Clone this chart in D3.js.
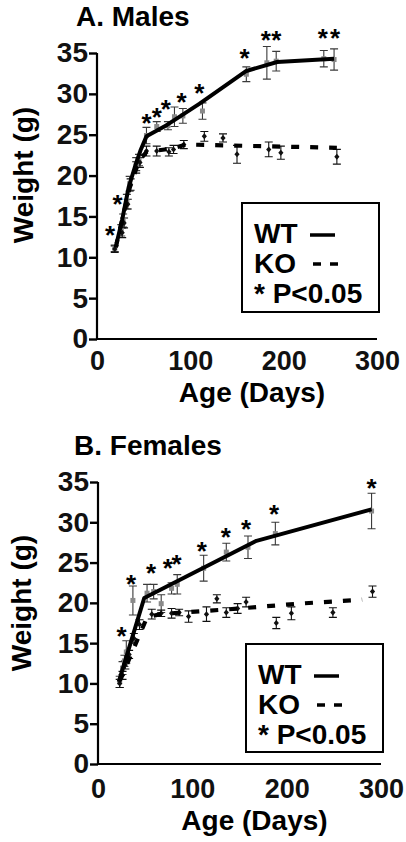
<!DOCTYPE html>
<html><head><meta charset="utf-8">
<script src="https://cdn.jsdelivr.net/npm/d3@7"></script>
<style>
body{margin:0;background:#fff;}
svg{display:block;font-family:"Liberation Sans",Arial,Helvetica,sans-serif;font-weight:bold;}
</style></head>
<body><svg id="c" width="406" height="842"></svg>
<script>
// ---- data ----
const yTicks = [0, 5, 10, 15, 20, 25, 30, 35];
const xTicks = [0, 100, 200, 300];
const legendLabels = ["WT", "KO", "* P<0.05"];

// Males: [day, mean weight, sem]
const maleWT = [[19,11.1,0.4],[26,13.3,0.7],[28,14.5,0.8],[32,16.8,0.9],[35,19.0,0.9],[42,21.4,0.8],[45,21.9,0.7],
  [53,24.9,1.0],[64,26.0,0.6],[76,26.1,0.5],[83,27.2,1.2],[92,27.3,0.9],[113,27.9,1.0],
  [160,32.4,0.9],[182,33.8,2.0],[192,34.0,1.2],[243,34.3,1.0],[254,34.2,1.3]];
const maleKO = [[19,11.0,0.4],[27,13.0,0.6],[29,14.2,0.6],[33,16.5,0.6],[36,18.9,0.7],[42,21.0,0.7],[46,21.6,0.6],
  [53,23.0,0.6],[64,23.0,0.6],[77,22.9,0.5],[82,23.2,0.5],[93,23.8,0.5],[115,24.8,0.6],[135,24.6,0.5],
  [150,22.6,1.1],[184,23.2,0.9],[197,22.8,0.8],[257,22.3,0.9]];
const maleWTFit = [[21,11.7],[27,14.6],[34,18.6],[41,21.2],[47,23.2],[53,24.8],[75,26.2],[110,28.8],[160,32.8],[193,33.9],[254,34.3]];
const maleKOFit = [[20,11.2],[35,18.5],[45,21.8],[53,22.9],[80,23.3],[95,23.8],[257,23.4]];
const maleStars = [[14,13.3],[22,17.1],[53,27.0],[64,27.8],[73.6,28.8],[90.7,29.6],[109.6,30.7],[158,35.0],[181,37.2],[192,37.2],[242,37.5],[255,37.5]];

// Females
const femaleWT = [[23,10.2,0.7],[26,11.9,0.8],[28,12.8,0.7],[30,13.9,1.4],[37,20.3,1.8],[52,21.2,1.1],[59,21.4,0.9],
  [67,19.9,1.1],[78,21.8,0.7],[84,22.3,1.2],[112,24.3,1.6],[136,26.3,1.1],[159,26.9,1.4],[188,28.6,1.4],[290,31.4,2.2]];
const femaleKO = [[23,10.0,0.5],[26,11.0,0.5],[29,12.3,0.5],[33,13.6,0.5],[38,15.6,0.6],[44,17.3,0.6],[57,18.6,0.6],
  [67,18.7,0.4],[78,18.7,0.6],[86,18.8,0.4],[96,18.3,0.7],[115,18.6,0.9],[126,20.5,0.5],[136,18.8,0.6],
  [148,19.3,0.6],[157,20.1,0.6],[189,17.5,0.7],[205,18.7,0.8],[249,18.8,0.6],[291,21.4,0.7]];
const femaleWTFit = [[22,10.2],[49,20.6],[168,27.7],[290,31.6]];
const femaleKOFit = [[23,10.3],[52,18.2],[66,18.6],[150,19.3],[212,19.9],[280,20.4]];
const femaleStars = [[25,16.5],[35,22.9],[56.2,24.3],[74,25.0],[83.4,25.4],[110,27.1],[135.4,28.8],[157,29.8],[186.6,31.6],[290,34.9]];

const svg = d3.select("#c");

function panel(o) {
  const x = d3.scaleLinear().domain([0, 300]).range(o.xr);
  const y = d3.scaleLinear().domain([0, 35]).range(o.yr);
  const g = svg.append("g");

  g.append("text").attr("x", o.title[0]).attr("y", o.title[1]).attr("font-size", 28).text(o.titleText);

  // axes
  const ya = g.append("g").attr("transform", `translate(${o.xr[0]},0)`)
    .call(d3.axisLeft(y).tickValues(yTicks).tickSize(8).tickPadding(1).tickFormat(d3.format("d")));
  ya.select(".domain").attr("stroke-width", 2.2).attr("d", `M0,${o.yr[0]}V${o.yr[1]}`);
  ya.selectAll(".tick line").attr("stroke-width", 2.4);
  ya.selectAll(".tick text").attr("font-size", 28).attr("font-weight", "bold")
    .attr("font-family", "Liberation Sans, Arial, sans-serif").attr("fill", "#111");

  const xa = g.append("g").attr("transform", `translate(0,${o.yr[0]})`)
    .call(d3.axisBottom(x).tickValues(xTicks).tickSize(0).tickPadding(o.xpad));
  xa.select(".domain").attr("stroke-width", 2.2).attr("d", `M${o.xr[0]},0H${o.xr[1]}`);
  xa.selectAll(".tick text").attr("font-size", 27).attr("font-weight", "bold")
    .attr("font-family", "Liberation Sans, Arial, sans-serif").attr("fill", "#111");

  g.append("text").attr("x", (o.xr[0] + o.xr[1]) / 2 + 15).attr("y", o.xlabY)
    .attr("text-anchor", "middle").attr("font-size", 28).text("Age (Days)");
  g.append("text").attr("transform", `translate(${o.ylab[0]},${o.ylab[1]}) rotate(-90)`)
    .attr("text-anchor", "middle").attr("font-size", 28).text("Weight (g)");

  const line = d3.line().x(d => x(d[0])).y(d => y(d[1]));

  // error bars
  function bars(data, col) {
    const eb = g.append("g").attr("stroke", col).attr("stroke-width", 1.1).attr("fill", "none");
    data.forEach(d => {
      const hi = y(d[1] + d[2]), lo = y(d[1] - d[2]), cx = x(d[0]);
      eb.append("path").attr("d", `M${cx},${hi}V${lo}M${cx-4},${hi}H${cx+4}M${cx-4},${lo}H${cx+4}`);
    });
  }
  bars(o.wt, "#3a3a3a");
  bars(o.ko, "#111");

  g.selectAll(null).data(o.wt).enter().append("rect")
    .attr("x", d => x(d[0]) - 2.5).attr("y", d => y(d[1]) - 2.5).attr("width", 5).attr("height", 5)
    .attr("fill", "#8a8a8a");
  g.selectAll(null).data(o.ko).enter().append("path")
    .attr("d", d => { const cx = x(d[0]), cy = y(d[1]); return `M${cx},${cy-3}L${cx+2.6},${cy}L${cx},${cy+3}L${cx-2.6},${cy}Z`; })
    .attr("fill", "#111");

  g.append("path").datum(o.koFit).attr("d", line).attr("fill", "none").attr("stroke", "#000")
    .attr("stroke-width", 4.2).attr("stroke-dasharray", "8,11");
  g.append("path").datum(o.wtFit).attr("d", line).attr("fill", "none").attr("stroke", "#000")
    .attr("stroke-width", 4).attr("stroke-linejoin", "round");

  g.selectAll(null).data(o.stars).enter().append("text")
    .attr("x", d => x(d[0])).attr("y", d => y(d[1]) + 14).attr("text-anchor", "middle")
    .attr("font-size", 26).text("*");

  // legend
  const L = o.legend;
  g.append("rect").attr("x", L[0]).attr("y", L[1]).attr("width", L[2]).attr("height", L[3])
    .attr("fill", "#fff").attr("stroke", "#000").attr("stroke-width", 2);
  legendLabels.forEach((t, i) => {
    g.append("text").attr("x", L[0] + 12).attr("y", L[1] + 40 + i * 30).attr("font-size", 28).text(t);
  });
  g.append("line").attr("x1", L[0] + 68).attr("x2", L[0] + 93).attr("y1", L[1] + 32).attr("y2", L[1] + 32)
    .attr("stroke", "#000").attr("stroke-width", 3.5);
  g.append("line").attr("x1", L[0] + 71).attr("x2", L[0] + 97).attr("y1", L[1] + 61).attr("y2", L[1] + 61)
    .attr("stroke", "#000").attr("stroke-width", 3.5).attr("stroke-dasharray", "8,9");
}

panel({titleText: "A. Males", title: [76, 26], xr: [97, 377], yr: [339, 53], xpad: 12, xlabY: 402,
  ylab: [33, 175], wt: maleWT, ko: maleKO, wtFit: maleWTFit, koFit: maleKOFit, stars: maleStars,
  legend: [242, 203, 137, 109]});
panel({titleText: "B. Females", title: [74, 455], xr: [98, 381], yr: [764, 482], xpad: 15, xlabY: 830,
  ylab: [31, 603], wt: femaleWT, ko: femaleKO, wtFit: femaleWTFit, koFit: femaleKOFit, stars: femaleStars,
  legend: [246, 644, 137, 108]});
</script></body></html>
